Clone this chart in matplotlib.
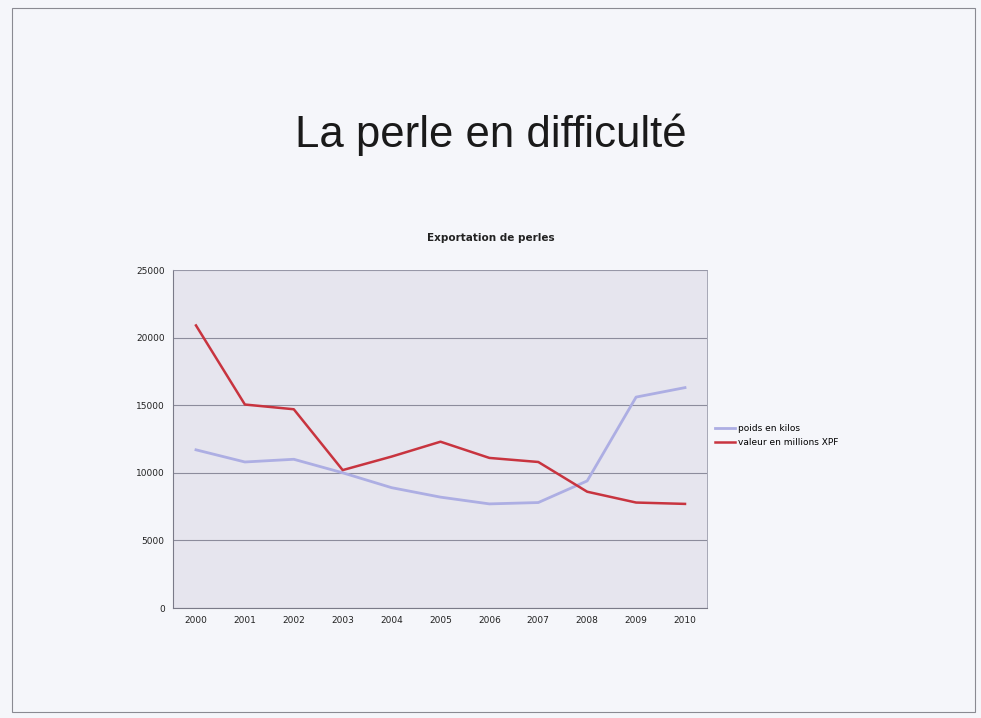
import matplotlib.pyplot as plt
from matplotlib.patches import Rectangle

years = ["2000", "2001", "2002", "2003", "2004", "2005",
         "2006", "2007", "2008", "2009", "2010"]
poids_kilos = [11700, 10800, 11000, 10000, 8900, 8200, 7700, 7800, 9400, 15600, 16300]
valeur_millions = [20900, 15050, 14700, 10200, 11200, 12300, 11100, 10800, 8600, 7800, 7700]
y_ticks = [0, 5000, 10000, 15000, 20000, 25000]

plt.rcParams["font.family"] = ["Liberation Sans", "DejaVu Sans"]

fig = plt.figure(figsize=(9.81, 7.18), dpi=100)
fig.patch.set_facecolor("#f5f6fa")

# slide frame
fig.patches.append(Rectangle((12 / 981, 6 / 718), 963 / 981, 704 / 718,
                             transform=fig.transFigure, fill=False,
                             edgecolor="#8a8a92", linewidth=0.8))

fig.text(0.5, 1 - 135 / 718, "La perle en difficulté", ha="center", va="center",
         fontsize=31.5, color="#1a1a1a")
fig.text(0.5, 1 - 238 / 718, "Exportation de perles", ha="center", va="center",
         fontsize=7.5, fontweight="bold", color="#222222", family="DejaVu Sans")

ax = fig.add_axes([173 / 981, 1 - 608 / 718, 534 / 981, 338 / 718])
ax.set_facecolor("#e6e5ee")
x = list(range(len(years)))
ax.plot(x, poids_kilos, color="#adaee3", linewidth=2.0, label="poids en kilos")
ax.plot(x, valeur_millions, color="#c8343f", linewidth=1.8, label="valeur en millions XPF")

ax.set_xlim(-0.47, 10.45)
ax.set_ylim(0, 25000)
ax.set_yticks(y_ticks)
ax.set_xticks(x)
ax.set_xticklabels(years)
ax.yaxis.grid(True, color="#8c8c9c", linewidth=0.8)
ax.set_axisbelow(True)
ax.tick_params(axis="both", length=0, labelsize=6.5, colors="#222222", pad=6)
for side in ["top", "right"]:
    ax.spines[side].set_color("#9a9aaa")
    ax.spines[side].set_linewidth(0.6)
for side in ["left", "bottom"]:
    ax.spines[side].set_color("#7a7a88")
    ax.spines[side].set_linewidth(0.8)
for lbl in ax.get_xticklabels() + ax.get_yticklabels():
    lbl.set_family("DejaVu Sans")

ax.legend(loc="center left", bbox_to_anchor=(1.0, 0.51), frameon=False,
          handlelength=2.2, handletextpad=0.3, labelspacing=0.6,
          prop={"family": "DejaVu Sans", "size": 6.5})

fig.savefig("out.png", dpi=100, facecolor=fig.get_facecolor())
